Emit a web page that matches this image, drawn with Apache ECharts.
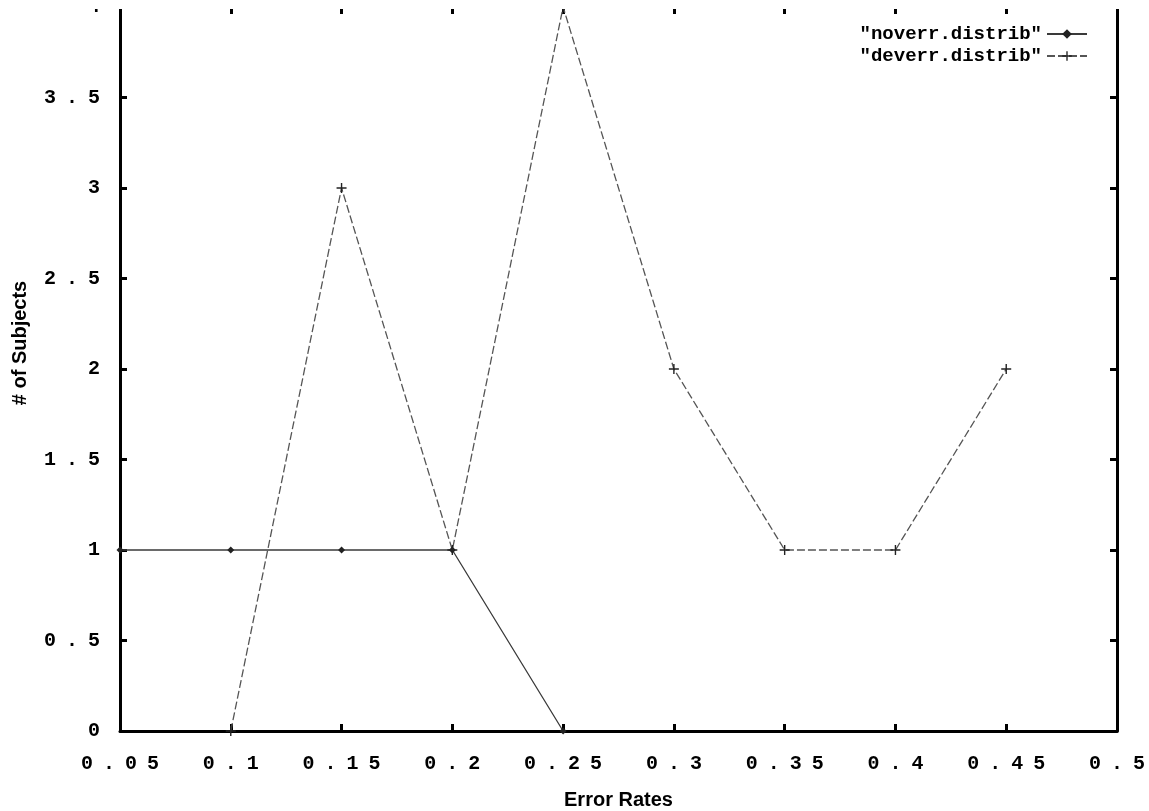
<!DOCTYPE html>
<html>
<head>
<meta charset="utf-8">
<script src="https://cdn.jsdelivr.net/npm/echarts@6/dist/echarts.min.js"></script>
<style>
html,body{margin:0;padding:0;background:#fff;}
#chart{width:1149px;height:811px;}
</style>
</head>
<body>
<div id="chart"></div>
<script>
const xTickLabels = ['0.05','0.1','0.15','0.2','0.25','0.3','0.35','0.4','0.45','0.5'];
const yTickLabels = ['0','0.5','1','1.5','2','2.5','3','3.5','4'];
const noverrX = [0.05, 0.1, 0.15, 0.2, 0.25];
const noverrY = [1, 1, 1, 1, 0];
const deverrX = [0.1, 0.15, 0.2, 0.25, 0.3, 0.35, 0.4, 0.45];
const deverrY = [0, 3, 1, 4, 2, 1, 1, 2];
const seriesNames = ['"noverr.distrib"', '"deverr.distrib"'];

const charStyle = {fontFamily: 'Liberation Mono', fontWeight: 'bold', fontSize: 20, color: '#000', padding: [0, 5, 0, 5]};
const spaced = s => s.split('').map(ch => '{c|' + ch + '}').join('');
const plusPath = 'path://M4.3,0H5.7V4.3H10V5.7H5.7V10H4.3V5.7H0V4.3H4.3Z';

const chart = echarts.init(document.getElementById('chart'), null, {renderer: 'canvas'});
const tickStyle = {show: true, inside: true, length: 7, lineStyle: {color: '#000', width: 3}};
const lineStyleOn = {show: true, onZero: false, lineStyle: {color: '#000', width: 3}};
chart.setOption({
  backgroundColor: '#fff',
  animation: false,
  grid: {left: 120, right: 32, top: 7, bottom: 80, containLabel: false, outerBoundsMode: 'none'},
  legend: {
    show: true, orient: 'vertical', right: 56, top: 19, align: 'right',
    itemWidth: 40, itemHeight: 12, itemGap: 2,
    textStyle: {fontFamily: 'Liberation Mono', fontWeight: 'bold', fontSize: 19, color: '#000', lineHeight: 20},
    data: seriesNames
  },
  xAxis: [
    {
      type: 'value', min: 0.05, max: 0.5, interval: 0.05, position: 'bottom',
      splitLine: {show: false}, axisLine: lineStyleOn, axisTick: tickStyle,
      axisLabel: {margin: 23, formatter: v => spaced(xTickLabels[Math.round((v - 0.05) / 0.05)]), rich: {c: charStyle}},
      name: 'Error Rates', nameLocation: 'middle', nameGap: 59,
      nameTextStyle: {fontFamily: 'Liberation Sans', fontWeight: 'bold', fontSize: 20, color: '#000'}
    },
    {
      type: 'value', min: 0.05, max: 0.5, interval: 0.05, position: 'top',
      splitLine: {show: false}, axisLine: {show: false, onZero: false}, axisTick: tickStyle,
      axisLabel: {show: false}
    }
  ],
  yAxis: [
    {
      type: 'value', min: 0, max: 4, interval: 0.5, position: 'left',
      splitLine: {show: false}, axisLine: lineStyleOn, axisTick: tickStyle,
      axisLabel: {margin: 15, formatter: v => spaced(yTickLabels[Math.round(v / 0.5)]), rich: {c: charStyle}},
      name: '# of Subjects', nameLocation: 'middle', nameGap: 90,
      nameTextStyle: {fontFamily: 'Liberation Sans', fontWeight: 'bold', fontSize: 20, color: '#000', padding: [0, 0, 0, 52]}
    },
    {
      type: 'value', min: 0, max: 4, interval: 0.5, position: 'right',
      splitLine: {show: false}, axisLine: lineStyleOn, axisTick: tickStyle,
      axisLabel: {show: false}
    }
  ],
  series: [
    {
      name: seriesNames[0], type: 'line', xAxisIndex: 0, yAxisIndex: 0,
      data: noverrX.map((x, i) => [x, noverrY[i]]),
      symbol: 'diamond', symbolSize: 7, showSymbol: true,
      lineStyle: {color: '#3a3a3a', width: 1.3},
      itemStyle: {color: '#222'}
    },
    {
      name: seriesNames[1], type: 'line', xAxisIndex: 0, yAxisIndex: 0,
      data: deverrX.map((x, i) => [x, deverrY[i]]),
      symbol: plusPath, symbolSize: 10, showSymbol: true,
      lineStyle: {color: '#555', width: 1.3, type: [8, 3]},
      itemStyle: {color: '#222'}
    }
  ],
  graphic: [
    {type: 'rect', left: 0, top: 0, z: 100, shape: {width: 1149, height: 9}, style: {fill: '#fff'}}
  ]
});
</script>
</body>
</html>
